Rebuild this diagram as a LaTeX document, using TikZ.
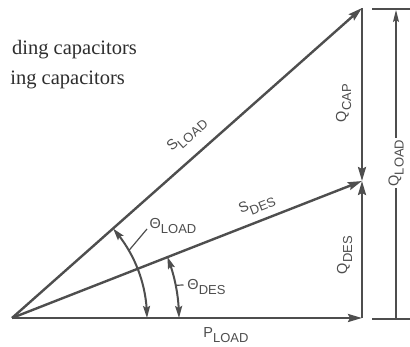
\documentclass[tikz,border=0pt]{standalone}
\usepackage{fontspec}
\setmainfont{Liberation Serif}
\newfontfamily\lblfont{Liberation Sans}
\usetikzlibrary{arrows.meta,bending,calc}
\definecolor{ink}{HTML}{4E4E4E}
\definecolor{txt}{HTML}{2E2E2E}
\newcommand{\vlab}[2]{{\lblfont\fontsize{14.5}{14.5}\selectfont #1}\raisebox{-5pt}{\lblfont\fontsize{13}{13}\selectfont #2}}
\begin{document}
\begin{tikzpicture}[x=1pt,y=-1pt,
  vec/.style={draw=ink, line width=2.4pt, -{Stealth[length=14pt,width=8pt,inset=2pt]}},
  ang/.style={draw=ink, line width=2pt, {Stealth[length=12pt,width=7pt,inset=2pt,flex]}-{Stealth[length=12pt,width=7pt,inset=2pt,flex]}},
  thinline/.style={draw=ink, line width=1.2pt},
  lbl/.style={text=ink, inner sep=0pt},
  toptext/.style={anchor=base east, text=txt, inner sep=0pt, font=\fontsize{20.5}{20.5}\selectfont},
]
\useasboundingbox (0,0) rectangle (410,347);
\fill[white] (0,0) rectangle (410,347);
% points
\coordinate (O) at (12,318);
\coordinate (P) at (362,318);
\coordinate (D) at (362,181);
\coordinate (L) at (362,8);
% top-left text
\node[toptext] (t1) at (137,55) {ding capacitors};
\node[toptext] (t2) at (125,85) {ing capacitors};
% vectors
\draw[vec] (O) -- (P);
\draw[vec] (O) -- (D);
\draw[vec] (O) -- (L);
\draw[vec] (P) -- (D);
\draw[vec] (L) -- (D);
% extension lines
\coordinate (e1a) at (372,9);
\coordinate (e1b) at (410,9);
\coordinate (e2a) at (372,319);
\coordinate (e2b) at (410,319);
\draw[thinline] (e1a) -- (e1b);
\draw[thinline] (e2a) -- (e2b);
% Q_LOAD dimension
\coordinate (qb) at (396,319);
\coordinate (qt) at (396,10);
\draw[thinline, -{Stealth[length=12pt,width=6pt,inset=2pt]}] (qb) -- node[pos=0.505, fill=white, text=ink, rotate=90, inner sep=2pt] (qload) {\vlab{Q}{LOAD}} (qt);
% angle arcs
\draw[ang] ($(O)+(135,0)$) arc[start angle=0, end angle=-41.5, radius=135];
\draw[ang] ($(O)+(167,0)$) arc[start angle=0, end angle=-21.5, radius=167];
% leaders
\coordinate (a1) at ($(O)+(-30:135)$);
\coordinate (a1e) at (147,229);
\draw[thinline] (a1) -- (a1e);
\coordinate (a2) at ($(O)+(-11.3:167)$);
\coordinate (a2e) at (183.5,285);
\draw[thinline] (a2) -- (a2e);
% labels
\node[lbl, rotate=41.5] (sload) at (187,135) {\vlab{S}{LOAD}};
\node[lbl, rotate=21.5] (sdes) at (257,205) {\vlab{S}{DES}};
\node[lbl, rotate=90] (qcap) at (343.5,103) {\vlab{Q}{CAP}};
\node[lbl, rotate=90] (qdes) at (344.5,255) {\vlab{Q}{DES}};
\node[lbl] (thload) at (173,226.5) {\vlab{Θ}{LOAD}};
\node[lbl] (thdes) at (206.5,287) {\vlab{Θ}{DES}};
\node[lbl] (pload) at (226,335) {\vlab{P}{LOAD}};
\end{tikzpicture}
\end{document}
